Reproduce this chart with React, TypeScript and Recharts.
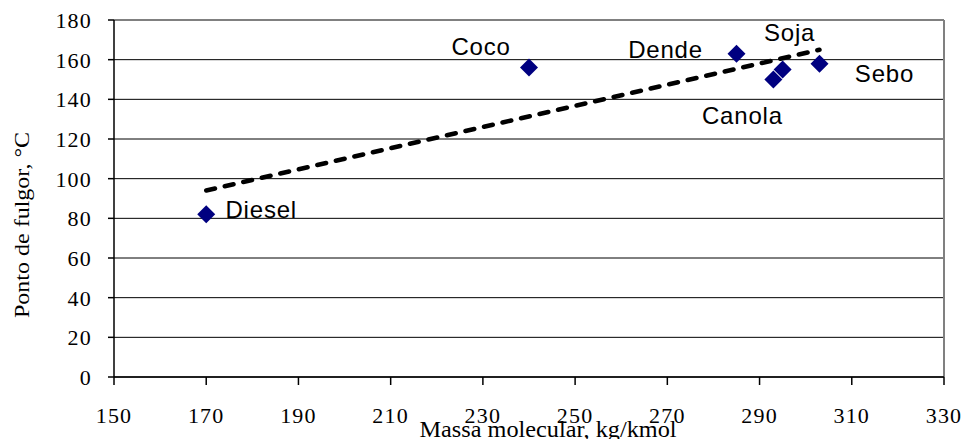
import { ScatterChart, Scatter, XAxis, YAxis, CartesianGrid, ReferenceLine, Label } from 'recharts';

const names = ['Diesel', 'Coco', 'Dende', 'Canola', 'Soja', 'Sebo'];
const massa = [170, 240, 285, 293, 295, 303];
const fulgor = [82, 156, 163, 150, 155, 158];

const trendMassa = [170, 303];
const trendFulgor = [94, 165];

const xTicks = [150, 170, 190, 210, 230, 250, 270, 290, 310, 330];
const yTicks = [0, 20, 40, 60, 80, 100, 120, 140, 160, 180];

const xTitle = 'Massa molecular, kg/kmol';
const yTitle = 'Ponto de fulgor, °C';

// where each name sits relative to its marker (px)
const labelOffset: Record<string, [number, number]> = {
  Diesel: [55, -5],
  Coco: [-48, -21],
  Dende: [-71, -4],
  Canola: [-31, 36],
  Soja: [7, -37],
  Sebo: [65, 10],
};

const points = names.map((name, i) => ({ name, x: massa[i], y: fulgor[i] }));
const trend = trendMassa.map((x, i) => ({ x, y: trendFulgor[i] }));

const serif = '"Liberation Serif", "Times New Roman", serif';
const sans = '"Liberation Sans", Arial, sans-serif';

const Diamond = (props: any) => {
  const { cx, cy, payload } = props;
  const r = 9;
  const [dx, dy] = labelOffset[payload.name] || [0, 0];
  return (
    <g>
      <polygon
        points={`${cx},${cy - r} ${cx + r},${cy} ${cx},${cy + r} ${cx - r},${cy}`}
        fill="#000080"
      />
      <text
        x={cx + dx}
        y={cy + dy}
        textAnchor="middle"
        dominantBaseline="central"
        fontFamily={sans}
        fontSize={24}
        letterSpacing={0.8}
        fill="#000"
      >
        {payload.name}
      </text>
    </g>
  );
};

const XTick = (props: any) => {
  const { x, y, payload } = props;
  return (
    <text x={x} y={y} dy="0.71em" textAnchor="middle" fontFamily={serif} fontSize={22} letterSpacing={1.2} fill="#000">
      {payload.value}
    </text>
  );
};

const YTick = (props: any) => {
  const { x, y, payload } = props;
  return (
    <text x={x} y={y} dy="0.36em" textAnchor="end" fontFamily={serif} fontSize={22} letterSpacing={1.2} fill="#000">
      {payload.value}
    </text>
  );
};

export default function App() {
  return (
    <div style={{ position: 'absolute', left: 0, top: 0, background: '#fff' }}>
      <ScatterChart width={965} height={439} margin={{ top: 20, right: 21, bottom: 0, left: 0 }}>
        <CartesianGrid vertical={false} stroke="#000" strokeWidth={1} />
        <XAxis
          type="number"
          dataKey="x"
          domain={[150, 330]}
          ticks={xTicks}
          interval={0}
          height={62}
          stroke="#000"
          strokeWidth={1.5}
          tickSize={8}
          tickMargin={22}
          tick={<XTick />}
        >
          <Label
            content={() => (
              <text
                x={548}
                y={437}
                textAnchor="middle"
                fontFamily={serif}
                fontSize={24}
                textLength={257}
                lengthAdjust="spacingAndGlyphs"
                fill="#000"
              >
                {xTitle}
              </text>
            )}
          />
        </XAxis>
        <YAxis
          type="number"
          dataKey="y"
          domain={[0, 180]}
          ticks={yTicks}
          interval={0}
          width={114}
          stroke="#000"
          strokeWidth={1.5}
          tickSize={6}
          tickMargin={16}
          tick={<YTick />}
        >
          <Label
            content={() => (
              <text
                x={0}
                y={0}
                transform="translate(29,225) rotate(-90)"
                textAnchor="middle"
                fontFamily={serif}
                fontSize={20}
                textLength={186}
                lengthAdjust="spacingAndGlyphs"
                fill="#000"
              >
                {yTitle}
              </text>
            )}
          />
        </YAxis>
        <ReferenceLine x={330} stroke="#808080" strokeWidth={2} />
        <ReferenceLine y={180} stroke="#808080" strokeWidth={1.5} />
        <Scatter
          data={trend}
          line={{ stroke: '#000', strokeWidth: 4.5, strokeDasharray: '9 10', strokeLinecap: 'round' }}
          shape={() => <g />}
          isAnimationActive={false}
        />
        <Scatter data={points} shape={Diamond} isAnimationActive={false} />
      </ScatterChart>
    </div>
  );
}
